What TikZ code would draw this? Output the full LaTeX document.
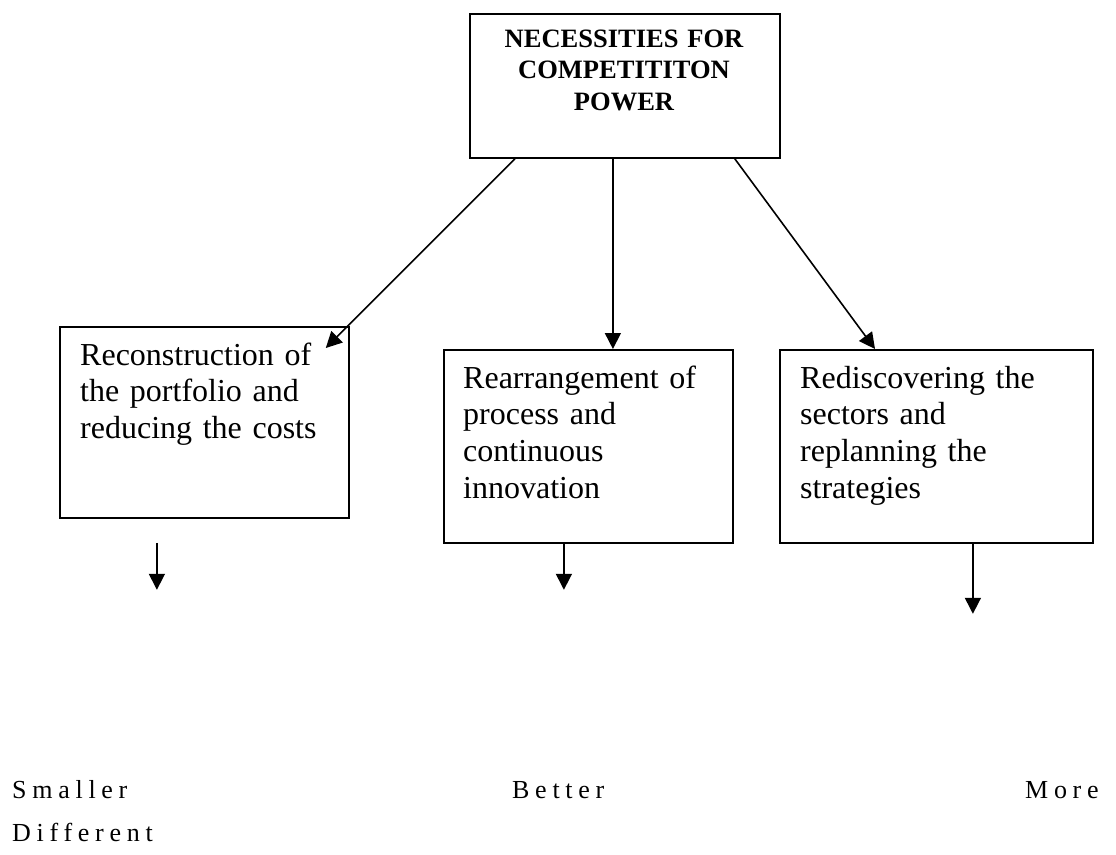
\documentclass[tikz,border=0pt]{standalone}
\usepackage{fontspec}
\setmainfont{Liberation Serif}
\newfontfamily\spacedserif[LetterSpace=22]{Liberation Serif}
\usetikzlibrary{arrows.meta,calc}
\begin{document}
\begin{tikzpicture}[x=1pt,y=-1pt,
  box/.style={draw, line width=1.8pt, inner sep=0pt, anchor=north west},
  boxtext/.style={anchor=base west, inner sep=0pt, text width=280pt, align=left,
    font=\fontsize{32}{36.7}\selectfont},
  arr/.style={line width=1.6pt, -{Triangle[length=16pt,width=16pt]}},
  word/.style={anchor=base west, inner sep=0pt, font=\spacedserif\fontsize{26}{30}\selectfont}]
\useasboundingbox (0,0) rectangle (1116,854);

% boxes
\node[box, minimum width=310pt, minimum height=144pt] (top) at (469,13) {};
\node[box, minimum width=289pt, minimum height=191pt] (left) at (59,326) {};
\node[box, minimum width=289pt, minimum height=193pt] (mid) at (443,349) {};
\node[box, minimum width=313pt, minimum height=193pt] (right) at (779,349) {};

% box texts
\node[anchor=base, inner sep=0pt, text width=300pt, align=center,
      font=\bfseries\fontsize{26.5}{31.5}\selectfont] (title) at (624,47)
      {NECESSITIES FOR\\COMPETITITON\\POWER};
\node[boxtext] (lefttext) at (80,365)
      {Reconstruction of\\the portfolio and\\reducing the costs};
\node[boxtext] (midtext) at (463,388)
      {Rearrangement of\\process and\\continuous\\innovation};
\node[boxtext] (righttext) at (800,388)
      {Rediscovering the\\sectors and\\replanning the\\strategies};

% connectors from the top box
\coordinate (m1) at ([xshift=-12pt]top.south);
\draw[arr] ([xshift=46pt]top.south west) -- ([xshift=-24pt,yshift=-22pt]left.north east);
\draw[arr] (m1) -- (m1 |- mid.north);
\draw[arr] ([xshift=-46pt]top.south east) -- ([xshift=96pt]right.north west);

% short arrows below the boxes
\draw[arr] ([xshift=-47.5pt,yshift=-24pt]left.south) -- ++(0,47);
\draw[arr] ([xshift=-24.5pt]mid.south) -- ++(0,46);
\draw[arr] ([xshift=36.5pt]right.south) -- ++(0,70);

% words at the bottom
\node[word] (smaller) at (12,798) {Smaller};
\node[word] (better) at (512,798) {Better};
\node[word] (more) at (1025,798) {More};
\node[word] (different) at (12,841) {Different};
\end{tikzpicture}
\end{document}
